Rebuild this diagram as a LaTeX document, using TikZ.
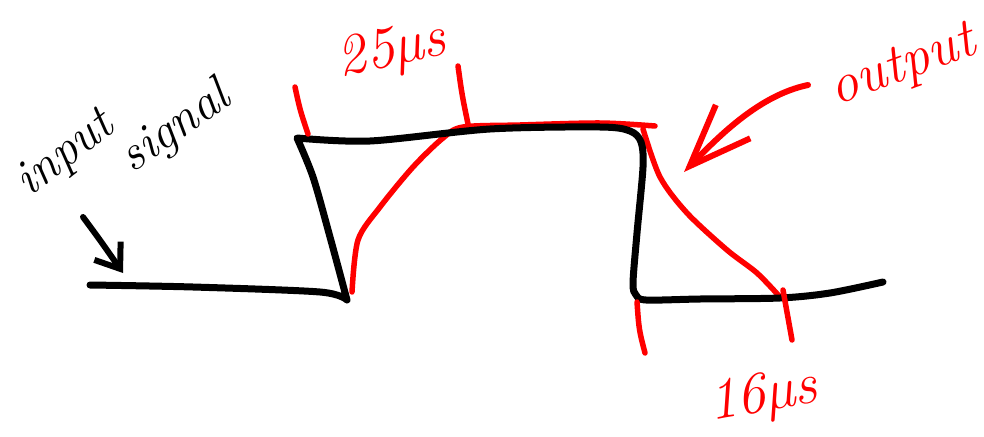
\documentclass[tikz,border=0pt]{standalone}
\usepackage{tikz}
\usetikzlibrary{arrows.meta,positioning}
\definecolor{inkred}{RGB}{255,0,0}

\begin{document}
\begin{tikzpicture}[
    x=1pt, y=-1pt,
    sig/.style={line width=7pt,line cap=round,line join=round,black},
    outp/.style={line width=5.5pt,line cap=round,line join=round,inkred},
    tickmark/.style={line width=5.5pt,line cap=round,inkred},
    lbl/.style={font=\fontsize{50}{58}\selectfont\itshape,inner sep=0pt},
    biglbl/.style={lbl,font=\fontsize{58}{66}\selectfont\itshape,text=inkred},
    pointer/.style={line width=6pt,line cap=round,line join=round}
]
\useasboundingbox (0,0) rectangle (984,436);

% output (red), under the input
\draw[outp] plot[smooth] coordinates {(352,292) (358,240) (380,207) (413,167) (443,138) (463,127) (520,125) (600,123) (655,126)};
\draw[outp] plot[smooth] coordinates {(643,129) (660,177) (687,213) (727,250) (757,273) (780,297)};

% input signal
\draw[sig] plot[smooth] coordinates {(90,285) (193,287) (320,292) (347,300)}
  -- plot[smooth] coordinates {(347,300) (330,237) (313,177) (297,138)}
  -- plot[smooth] coordinates {(297,138) (370,141) (490,129) (600,127) (630,131) (641,142) (643,167) (637,233) (633,283) (636,295) (646,300) (700,299) (780,298) (830,293) (883,282)};

% timing marks
\draw[tickmark] (295,87) .. controls (300,110) .. (308,134);
\draw[tickmark] (458,66) .. controls (462,95) .. (468,124);
\draw[tickmark] (637,302) .. controls (639,330) .. (645,353);
\draw[tickmark] (783,290) .. controls (787,315) .. (792,340);

% labels
\node[lbl,rotate=38] (input) at (66,155) {input};
\node[lbl,rotate=35] (signal) at (176,128) {signal};
\node[biglbl,rotate=12] (rise) at (392,52) {25µs};
\node[lbl,font=\fontsize{56}{64}\selectfont\itshape,text=inkred,rotate=20] (output) at (903,68) {output};
\node[biglbl,rotate=10] (fall) at (763,398) {16µs};

% arrows
\coordinate (inTail) at (83,217);
\coordinate (inTip) at (123,273);
\coordinate (outTail) at (808,85);
\coordinate (outTip) at (684,172);
\draw[pointer,-{Straight Barb[length=22pt,width=32pt]}] (inTail) .. controls (100,240) .. (inTip);
\draw[pointer,inkred,-{Straight Barb[length=62pt,width=48pt]}] (outTail) .. controls (760,95) and (720,135) .. (outTip);
\end{tikzpicture}
\end{document}
